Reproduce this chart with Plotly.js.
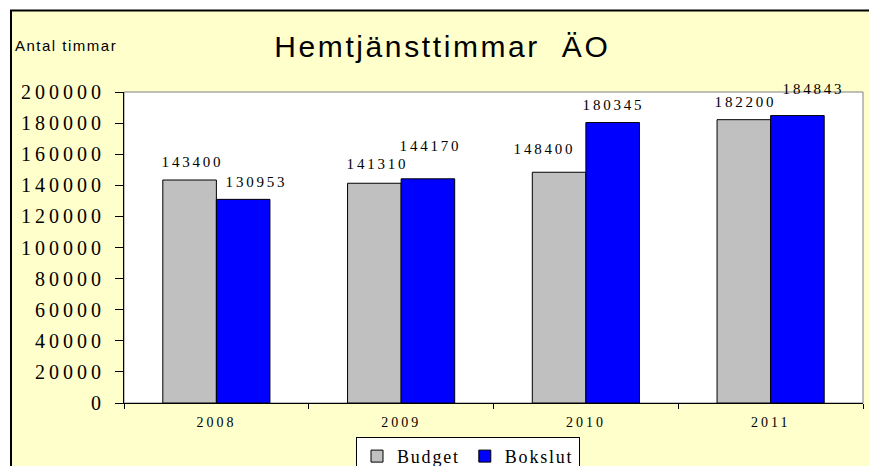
<!DOCTYPE html>
<html>
<head>
<meta charset="utf-8">
<script src="https://cdn.plot.ly/plotly-3.0.1.min.js"></script>
<style>
  html, body { margin: 0; padding: 0; background: #ffffff; }
  #chart { width: 869px; height: 466px; }
  .ytick text { letter-spacing: 4px; }
  .xtick text { letter-spacing: 3px; }
  .legendtext { letter-spacing: 1.8px; }
  .gtitle { letter-spacing: 2.6px; }
  .annotation .annotation-text { letter-spacing: 2.8px; }
  .annotation[data-index="0"] .annotation-text { letter-spacing: 1.5px; }
</style>
</head>
<body>
<div id="chart"></div>
<script>
// ---- data ----
const years = ['2008', '2009', '2010', '2011'];
const budget = [143400, 141310, 148400, 182200];
const bokslut = [130953, 144170, 180345, 184843];
const seriesNames = ['Budget', 'Bokslut'];
const titleText = 'Hemtjänsttimmar&nbsp;&nbsp;ÄO';
const yAxisLabel = 'Antal timmar';

// ---- style ----
const colors = ['#C0C0C0', '#0000FF'];
const serif = 'Liberation Serif';
const sans = 'Liberation Sans';
const bargap = 0.42;
// label nudges (pixels) to mimic the original label placement
const labelDx = [[2, 2, -16, 1], [12, 2, 0, 15]];
const labelDy = [[18, 19, 23, 18], [17, 33, 18, 27]];

const allSeries = [budget, bokslut];
const traces = allSeries.map((vals, s) => ({
  type: 'bar',
  name: seriesNames[s],
  x: years,
  y: vals,
  marker: { color: colors[s], line: { color: '#000000', width: 1 } },
  hoverinfo: 'x+y+name'
}));

const barW = (1 - bargap) / 2;
const annotations = [{
  text: yAxisLabel, xref: 'paper', yref: 'paper',
  x: -0.1475, y: 1.151, xanchor: 'left', yanchor: 'middle', xshift: 7,
  showarrow: false, font: { family: sans, size: 15, color: '#000000' }
}];
allSeries.forEach((vals, s) => {
  vals.forEach((v, i) => {
    annotations.push({
      x: i + (s === 0 ? -barW / 2 : barW / 2),
      y: v,
      xref: 'x', yref: 'y',
      text: String(v),
      showarrow: false,
      xanchor: 'center', yanchor: 'middle',
      xshift: labelDx[s][i] + 1, yshift: labelDy[s][i],
      font: { family: serif, size: 15, color: '#000000' }
    });
  });
});

const layout = {
  width: 869, height: 466,
  margin: { l: 124, r: 6, t: 92, b: 63, pad: 0, autoexpand: false },
  paper_bgcolor: '#ffffff',
  plot_bgcolor: '#ffffff',
  barmode: 'group',
  bargap: bargap,
  bargroupgap: 0,
  showlegend: true,
  title: {
    text: titleText,
    font: { family: sans, size: 30, color: '#000000' },
    x: 0.509, xanchor: 'center',
    y: 0.901, yanchor: 'middle'
  },
  xaxis: {
    type: 'category',
    showgrid: false, zeroline: false,
    showline: true, linecolor: '#000000', linewidth: 1,
    ticks: 'outside', tickson: 'boundaries', ticklen: 5, tickcolor: '#000000',
    tickfont: { family: serif, size: 14, color: '#000000' },
    ticklabelstandoff: 6
  },
  yaxis: {
    range: [0, 200000], dtick: 20000, tick0: 0,
    tickformat: 'd',
    showgrid: false, zeroline: false,
    showline: true, linecolor: '#000000', linewidth: 1,
    ticks: 'outside', ticklen: 8, tickcolor: '#000000',
    tickfont: { family: serif, size: 20, color: '#000000' },
    ticklabelstandoff: 6
  },
  legend: {
    orientation: 'h',
    x: 0.4655, xanchor: 'center',
    y: -0.109, yanchor: 'top',
    bgcolor: '#ffffff', bordercolor: '#000000', borderwidth: 1,
    font: { family: serif, size: 18, color: '#000000' },
    itemwidth: 30, tracegroupgap: 0
  },
  shapes: [
    { type: 'rect', xref: 'paper', yref: 'paper', layer: 'below',
      x0: -0.1529, x1: 1.05, y0: -0.4, y1: 1.262,
      fillcolor: '#FFFFCC', line: { color: '#000000', width: 2 } },
    { type: 'rect', xref: 'paper', yref: 'paper', layer: 'below',
      x0: 0, x1: 1, y0: 0, y1: 1,
      fillcolor: '#FFFFFF', line: { color: '#808080', width: 1 } }
  ],
  annotations: annotations
};

Plotly.newPlot('chart', traces, layout, { displayModeBar: false, staticPlot: true });
</script>
</body>
</html>
